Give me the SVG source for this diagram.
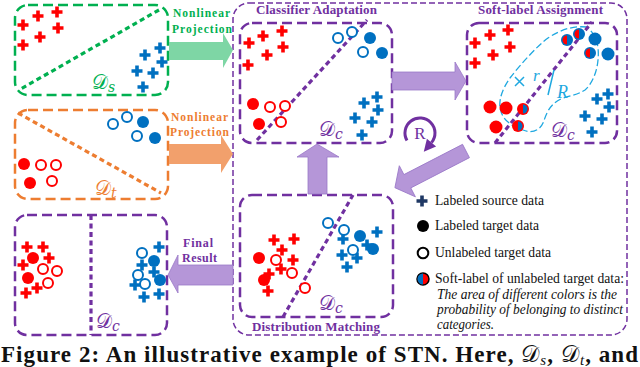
<svg xmlns="http://www.w3.org/2000/svg" xmlns:xlink="http://www.w3.org/1999/xlink" width="640" height="367" viewBox="0 0 640 367">
<style>
.r{fill:#ff0000}
.b{fill:#0070c0}
.ro{fill:#fff;stroke:#ff0000;stroke-width:2}
.bo{fill:#fff;stroke:#0070c0;stroke-width:2}
.box{fill:none;stroke-width:2.5;stroke-dasharray:10 5}
.diag{fill:none;stroke-width:3.2;stroke-dasharray:5 3.5}
.lbl{font-family:"Liberation Serif",serif;font-weight:bold}
.dc{font-family:"DejaVu Serif","DejaVu Sans",serif;font-size:20px}
.leg{font-family:"Liberation Serif","Times New Roman",serif;font-size:14.5px;fill:#111}
.legi{font-family:"Liberation Serif","Times New Roman",serif;font-size:14px;font-style:italic;fill:#111}
.pu{stroke:#7030a0}
.parrow{fill:#b596d8;stroke:#9a78c8;stroke-width:0.8}
</style>
<defs>
<path id="plus" d="M-5.5,-1.8h11v3.6h-11zM-1.8,-5.5h3.6v11h-3.6z"/>
<g id="hr"><circle r="6" fill="#ff0000"/><path d="M0,-4.5A4.5,4.5 0 0 1 0,4.5Z" fill="#0070c0"/></g>
<g id="hb"><circle r="6" fill="#0070c0"/><path d="M0,-4.5A4.5,4.5 0 0 0 0,4.5Z" fill="#ff0000"/></g>
</defs>

<g id="source-domain">
<rect class="box" x="15" y="5" width="153" height="90" rx="13" stroke="#00b050"/>
<line class="diag" x1="159" y1="10" x2="19" y2="90" stroke="#00b050"/>
<use href="#plus" x="38" y="16" class="r"/><use href="#plus" x="57" y="12" class="r"/><use href="#plus" x="23" y="25" class="r"/>
<use href="#plus" x="58" y="28" class="r"/><use href="#plus" x="40" y="37" class="r"/><use href="#plus" x="23" y="45" class="r"/>
<use href="#plus" x="160" y="48" class="b"/><use href="#plus" x="145" y="55" class="b"/><use href="#plus" x="162" y="62" class="b"/>
<use href="#plus" x="137" y="71" class="b"/><use href="#plus" x="153" y="73" class="b"/><use href="#plus" x="143" y="87" class="b"/>
<text class="dc" x="92" y="89" fill="#00b050">𝒟<tspan font-size="14" font-style="italic" dy="3">s</tspan></text>
</g>

<g id="target-domain">
<rect class="box" x="15" y="110" width="153" height="89" rx="13" stroke="#ed7d31"/>
<line class="diag" x1="18" y1="113" x2="161" y2="193" stroke="#ed7d31"/>
<circle cx="24" cy="164" r="6" class="r"/><circle cx="30" cy="183" r="6" class="r"/>
<circle cx="41" cy="165" r="5" class="ro"/><circle cx="56" cy="165" r="5" class="ro"/><circle cx="52" cy="181" r="5" class="ro"/>
<circle cx="113" cy="124" r="5" class="bo"/><circle cx="127" cy="117" r="5" class="bo"/><circle cx="137" cy="136" r="5" class="bo"/>
<circle cx="143" cy="122" r="6" class="b"/><circle cx="155" cy="138" r="6" class="b"/>
<text class="dc" x="95" y="195" fill="#ed7d31">𝒟<tspan font-size="14" font-style="italic" dy="3">t</tspan></text>
</g>

<g id="stn-frame">
<rect x="233" y="3" width="394" height="332" rx="16" fill="none" stroke="#7030a0" stroke-width="1.5" stroke-dasharray="6 3"/>
<text class="lbl" x="256" y="14" font-size="13" fill="#7030a0" textLength="121">Classifier Adaptation</text>
<text class="lbl" x="478" y="14" font-size="13" fill="#7030a0" textLength="125">Soft-label Assignment</text>
<text class="lbl" x="252" y="331" font-size="13" fill="#7030a0" textLength="128">Distribution Matching</text>
</g>

<g id="classifier-adaptation">
<rect class="box pu" x="240" y="23" width="152" height="120" rx="12"/>
<line class="diag pu" x1="257" y1="140" x2="367" y2="20"/>
<use href="#plus" x="249" y="43" class="r"/><use href="#plus" x="263" y="36" class="r"/><use href="#plus" x="282" y="31" class="r"/>
<use href="#plus" x="283" y="47" class="r"/><use href="#plus" x="267" y="55" class="r"/><use href="#plus" x="248" y="65" class="r"/>
<circle cx="253" cy="104" r="6" class="r"/><circle cx="259" cy="124" r="6" class="r"/>
<circle cx="270" cy="107" r="5" class="ro"/><circle cx="285" cy="106" r="5" class="ro"/><circle cx="281" cy="122" r="5" class="ro"/>
<circle cx="338" cy="38" r="5" class="bo"/><circle cx="352" cy="32" r="5" class="bo"/><circle cx="363" cy="52" r="5" class="bo"/>
<circle cx="370" cy="38" r="6" class="b"/><circle cx="382" cy="53" r="6" class="b"/>
<use href="#plus" x="377" y="97" class="b"/><use href="#plus" x="378" y="110" class="b"/><use href="#plus" x="364" y="103" class="b"/>
<use href="#plus" x="355" y="118" class="b"/><use href="#plus" x="372" y="122" class="b"/><use href="#plus" x="362" y="135" class="b"/>
<text class="dc" x="319" y="136" fill="#7030a0">𝒟<tspan font-size="14" font-style="italic" dy="3">c</tspan></text>
</g>

<g id="soft-label-assignment">
<rect class="box pu" x="467" y="23" width="150" height="120" rx="12"/>
<path d="M587,27 C575,26 563,28 548,38 C538,45 520,65 510,78 C503,88 499,98 500,107 C501,115 505,124 523,130 C532,134 540,130 543,123 C546,116 548,104 563,98 C572,95 577,95 585,90 C592,84 597,72 598,60 C599,50 598,38 590,30 C589,29 588,28 587,27Z" fill="none" stroke="#1fa8e0" stroke-width="1.3" stroke-dasharray="7 3"/>
<line class="diag pu" x1="495" y1="143" x2="592" y2="22"/>
<use href="#plus" x="475" y="43" class="r"/><use href="#plus" x="490" y="35" class="r"/><use href="#plus" x="508" y="30" class="r"/>
<use href="#plus" x="510" y="47" class="r"/><use href="#plus" x="493" y="55" class="r"/><use href="#plus" x="475" y="63" class="r"/>
<circle cx="490" cy="107" r="6.5" class="r"/><circle cx="506" cy="108" r="6.5" class="r"/><circle cx="496" cy="127" r="6.5" class="r"/>
<use href="#hr" x="523" y="109"/><use href="#hr" x="518" y="126"/>
<use href="#hb" x="567" y="40"/><use href="#hb" x="579" y="34"/><use href="#hb" x="590" y="53"/>
<circle cx="595" cy="39" r="6.5" class="b"/><circle cx="608" cy="54" r="6.5" class="b"/>
<use href="#plus" x="597" y="99" class="b"/><use href="#plus" x="608" y="94" class="b"/><use href="#plus" x="609" y="107" class="b"/>
<use href="#plus" x="585" y="116" class="b"/><use href="#plus" x="602" y="119" class="b"/><use href="#plus" x="592" y="132" class="b"/>
<path d="M515,77l9,9M524,77l-9,9M554,70l-6,25" stroke="#1fa8e0" stroke-width="1.5" fill="none"/>
<text x="533" y="81" font-family="Liberation Serif,serif" font-style="italic" font-size="17" fill="#1fa8e0">r</text>
<text x="557" y="98" font-family="Liberation Serif,serif" font-style="italic" font-size="18" fill="#1fa8e0">R</text>
<text class="dc" x="551" y="137" fill="#7030a0">𝒟<tspan font-size="14" font-style="italic" dy="3">c</tspan></text>
</g>

<g id="distribution-matching">
<rect class="box pu" x="240" y="195" width="153" height="122" rx="12"/>
<line class="diag pu" x1="283" y1="317" x2="353" y2="195"/>
<use href="#plus" x="274" y="240" class="r"/><use href="#plus" x="294" y="239" class="r"/><use href="#plus" x="282" y="250" class="r"/>
<use href="#plus" x="293" y="260" class="r"/><use href="#plus" x="281" y="269" class="r"/><use href="#plus" x="269" y="274" class="r"/>
<use href="#plus" x="268" y="291" class="r"/>
<circle cx="259" cy="258" r="6" class="r"/><circle cx="264" cy="280" r="6" class="r"/>
<circle cx="276" cy="260" r="5" class="ro"/><circle cx="292" cy="273" r="5" class="ro"/><circle cx="305" cy="288" r="5" class="ro"/>
<use href="#plus" x="377" y="232" class="b"/><use href="#plus" x="343" y="239" class="b"/><use href="#plus" x="367" y="245" class="b"/>
<use href="#plus" x="342" y="255" class="b"/><use href="#plus" x="357" y="258" class="b"/><use href="#plus" x="347" y="267" class="b"/>
<circle cx="360" cy="236" r="6" class="b"/><circle cx="373" cy="249" r="6" class="b"/>
<circle cx="328" cy="223" r="5" class="bo"/><circle cx="344" cy="230" r="5" class="bo"/><circle cx="353" cy="250" r="5" class="bo"/>
<text class="dc" x="319" y="310" fill="#7030a0">𝒟<tspan font-size="14" font-style="italic" dy="3">c</tspan></text>
</g>

<g id="final-result">
<rect class="box pu" x="15" y="215" width="152" height="120" rx="12"/>
<line class="diag pu" x1="91" y1="215" x2="91" y2="335"/>
<use href="#plus" x="27" y="247" class="r"/><use href="#plus" x="43" y="247" class="r"/><use href="#plus" x="49" y="258" class="r"/>
<use href="#plus" x="23" y="265" class="r"/><use href="#plus" x="26" y="293" class="r"/><use href="#plus" x="37" y="288" class="r"/>
<circle cx="33" cy="258" r="6" class="r"/><circle cx="28" cy="278" r="6" class="r"/>
<circle cx="43" cy="269" r="5" class="ro"/><circle cx="57" cy="271" r="5" class="ro"/><circle cx="48" cy="283" r="5" class="ro"/>
<use href="#plus" x="159" y="247" class="b"/><use href="#plus" x="142" y="265" class="b"/><use href="#plus" x="135" y="285" class="b"/>
<use href="#plus" x="144" y="297" class="b"/><use href="#plus" x="159" y="294" class="b"/><use href="#plus" x="154" y="272" class="b"/>
<circle cx="154" cy="261" r="6" class="b"/><circle cx="160" cy="280" r="6" class="b"/>
<circle cx="142" cy="253" r="5" class="bo"/><circle cx="138" cy="275" r="5" class="bo"/><circle cx="145" cy="284" r="5" class="bo"/>
<text class="dc" x="96" y="328" fill="#7030a0">𝒟<tspan font-size="14" font-style="italic" dy="3">c</tspan></text>
</g>

<g id="legend">
<use href="#plus" x="422" y="201" fill="#1f3864"/>
<text class="leg" x="435" y="205" textLength="109" lengthAdjust="spacingAndGlyphs">Labeled source data</text>
<circle cx="423" cy="226" r="6" fill="#000"/>
<text class="leg" x="435" y="230" textLength="104" lengthAdjust="spacingAndGlyphs">Labeled target data</text>
<circle cx="423" cy="253" r="5.3" fill="#fff" stroke="#000" stroke-width="2"/>
<text class="leg" x="435" y="257" textLength="116" lengthAdjust="spacingAndGlyphs">Unlabeled target data</text>
<circle cx="423" cy="279" r="6" fill="#ff0000" stroke="#000" stroke-width="1.5"/>
<path d="M423,273.5A5.5,5.5 0 0 0 423,284.5Z" fill="#0070c0"/>
<text class="leg" x="435" y="283" textLength="189" lengthAdjust="spacingAndGlyphs">Soft-label of unlabeled target data:</text>
<text class="legi" x="437" y="299" textLength="180" lengthAdjust="spacingAndGlyphs">The area of different colors is the</text>
<text class="legi" x="437" y="314" textLength="186" lengthAdjust="spacingAndGlyphs">probability of belonging to distinct</text>
<text class="legi" x="437" y="329" textLength="57" lengthAdjust="spacingAndGlyphs">categories.</text>
</g>

<g id="connectors">
<path d="M169,42H223V33L233,50L223,68V60H169Z" fill="#7ed6a5"/>
<text class="lbl" x="173" y="17" font-size="11.5" fill="#00b050" textLength="57">Nonlinear</text>
<text class="lbl" x="172" y="33" font-size="11.5" fill="#00b050" textLength="60">Projection</text>
<path d="M169,144H221V135L233,154L221,173V164H169Z" fill="#f2a06c"/>
<text class="lbl" x="171" y="121" font-size="11.5" fill="#ed7d31" textLength="57">Nonlinear</text>
<text class="lbl" x="170" y="136" font-size="11.5" fill="#ed7d31" textLength="59">Projection</text>
<path d="M392,72H455V62L466,81L455,100V90H392Z" class="parrow"/>
<path d="M308,194V157H297L317,144L339,157H327V194Z" class="parrow"/>
<path d="M0,-7.5H66V-17.5L80,0L66,17.5V7.5H0Z" class="parrow" transform="translate(466,151) rotate(152.7)"/>
<path d="M233,265H178V255L168,275L178,293V285H233Z" class="parrow"/>
<text class="lbl" x="183" y="247" font-size="12" fill="#7030a0" textLength="30">Final</text>
<text class="lbl" x="182" y="262" font-size="12" fill="#7030a0" textLength="35">Result</text>
<path d="M407,140.5A15,15 0 1 1 431.5,142.6" fill="none" stroke="#7030a0" stroke-width="3"/>
<path d="M423.8,151.8L436.1,146.5L426.9,138.7Z" fill="#7030a0"/>
<text x="420" y="139" text-anchor="middle" font-family="Liberation Serif,serif" font-size="17" fill="#7030a0">R</text>
</g>

<text x="1" y="362" font-family="Liberation Serif,serif" font-weight="bold" font-size="23" fill="#111" textLength="637" lengthAdjust="spacing">Figure 2: An illustrative example of STN. Here, <tspan font-family="DejaVu Serif,serif" font-weight="normal">𝒟</tspan><tspan font-style="italic" font-weight="normal" font-size="15" dy="3">s</tspan><tspan dy="-3">, </tspan><tspan font-family="DejaVu Serif,serif" font-weight="normal">𝒟</tspan><tspan font-style="italic" font-weight="normal" font-size="15" dy="3">t</tspan><tspan dy="-3">, and</tspan></text>
</svg>
